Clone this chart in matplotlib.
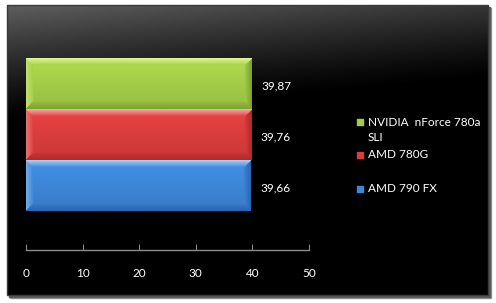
import numpy as np
import matplotlib
matplotlib.use("Agg")
import matplotlib.pyplot as plt
from matplotlib.patches import Rectangle

plt.rcParams["font.family"] = ["Lato", "DejaVu Sans"]

# data (top to bottom as shown)
labels = ["NVIDIA  nForce 780a\nSLI", "AMD 780G", "AMD 790 FX"]
values = [39.87, 39.76, 39.66]
xticks = [0, 10, 20, 30, 40, 50]

# (light, base, dark) per bar
colors = [
    ("#dcf68e", "#a3cd48", "#7ea233"),
    ("#ffa3a3", "#da3d3d", "#b02a2a"),
    ("#a4cdf6", "#3d86d8", "#2b66b2"),
]

W, H = 496, 303
fig = plt.figure(figsize=(W / 100, H / 100), dpi=100, facecolor="white")

# background panel with shadow and gradient
bg = fig.add_axes([0, 0, 1, 1])
bg.set_xlim(0, W)
bg.set_ylim(H, 0)
bg.axis("off")
bg.add_patch(Rectangle((10, 8), 481, 290, color="#9a9a9a", zorder=0))
bg.add_patch(Rectangle((9, 7), 481, 290, color="#5a5a5a", zorder=0.5))
yy, xx = np.mgrid[0:290, 0:481]
g = 0.37 * np.clip(1 - yy / 115 - xx / 1300, 0, 1) ** 1.2
bgimg = np.dstack([g, g, g])
bg.imshow(bgimg, extent=(7, 488, 295, 5), aspect="auto", zorder=1)
bg.add_patch(Rectangle((7, 5), 481, 290, fill=False, ec="#3a3a3a", lw=1, zorder=2))
bg.set_xlim(0, W)
bg.set_ylim(H, 0)


def bevel_img(light, base, dark, ny=50, nx=220, b=7):
    cl = np.array(matplotlib.colors.to_rgb(light))
    cb = np.array(matplotlib.colors.to_rgb(base))
    cd = np.array(matplotlib.colors.to_rgb(dark))
    img = np.zeros((ny, nx, 3))
    for j in range(ny):
        t = j / (ny - 1)
        # interior: slight vertical gradient
        inner = cb * (1.08 - 0.16 * t)
        img[j, :, :] = np.clip(inner, 0, 1)
    for j in range(ny):
        for i in range(nx):
            dt, db, dl, dr = j, ny - 1 - j, i, nx - 1 - i
            m = min(dt, db, dl, dr)
            if m >= b:
                continue
            f = m / b
            if m == dt:
                c = cl * (1 - f) + cb * f
            elif m == db:
                c = cd * (1 - f) + cb * 0.92 * f
            elif m == dl:
                c = (cl * 0.5 + cb * 0.5) * (1 - f) + cb * f
            else:
                c = cd * (1 - f) + cb * f
            img[j, i] = c
    return img


ax = fig.add_axes([26 / W, (H - 250) / H, 283 / W, 210 / H])
ax.set_facecolor("none")
pos = np.arange(len(values))[::-1].astype(float)
bars = ax.barh(pos, values, height=1.0, color=[c[1] for c in colors], zorder=2)
for bar, c in zip(bars, colors):
    x0, y0 = bar.get_x(), bar.get_y()
    w, h = bar.get_width(), bar.get_height()
    im = ax.imshow(bevel_img(*c), extent=(x0, x0 + w, y0, y0 + h),
                   aspect="auto", zorder=3, interpolation="bilinear")
    im.set_clip_path(bar)

for p, v in zip(pos, values):
    ax.annotate(f"{v:.2f}".replace(".", ","), (v, p), xytext=(7, -1.5),
                textcoords="offset points", va="center", ha="left",
                color="white", fontsize=8.5)

ax.set_xlim(0, 50)
ax.set_ylim(-1.265, 2.853)
ax.set_xticks(xticks)
ax.set_xticklabels([str(t) for t in xticks])
ax.set_yticks([])
for s in ["top", "right", "left"]:
    ax.spines[s].set_visible(False)
ax.spines["bottom"].set_color("#8c8c8c")
ax.spines["bottom"].set_linewidth(1)
ax.tick_params(axis="x", direction="in", length=4, color="#8c8c8c",
               labelcolor="white", labelsize=8.5, pad=13)

# legend
leg_y = [122, 155, 189]
for lab, c, y in zip(labels, colors, leg_y):
    bg.add_patch(Rectangle((357, y - 3.5), 6, 6, color=c[1], zorder=5))
    bg.text(368, y - 5.5, lab, color="white", fontsize=8.5, va="top", ha="left",
            linespacing=1.45, zorder=5)

fig.savefig("out.png", dpi=100, facecolor="white")
